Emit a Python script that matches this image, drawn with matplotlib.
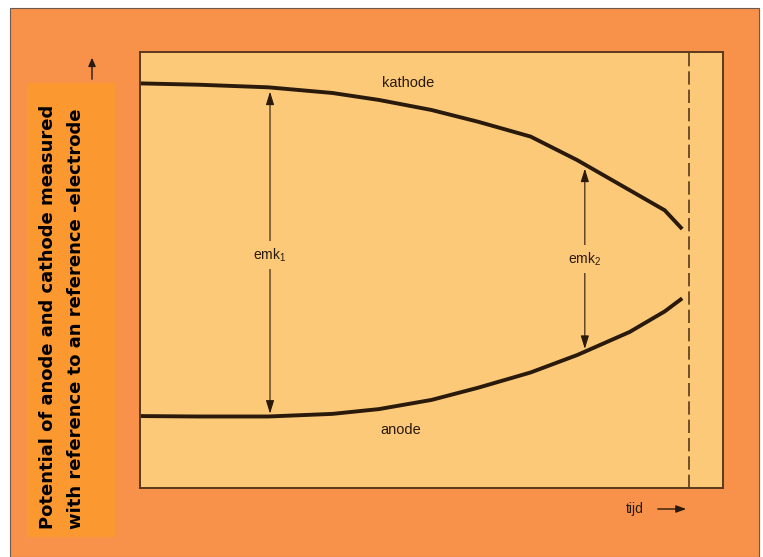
import numpy as np
import matplotlib.pyplot as plt
from matplotlib.patches import Rectangle, FancyArrowPatch

plt.rcParams['font.family'] = ['Liberation Sans', 'DejaVu Sans']
plt.rcParams['mathtext.fontset'] = 'custom'
plt.rcParams['mathtext.rm'] = 'Liberation Sans'
plt.rcParams['mathtext.it'] = 'Liberation Sans'

# data (time in arbitrary units, potential in arbitrary units)
tijd = [0, 1.0, 2.2, 3.3, 4.1, 5.0, 5.8, 6.7, 7.5, 8.4, 9.0, 9.3]
kathode = [9.28, 9.25, 9.19, 9.06, 8.90, 8.67, 8.40, 8.06, 7.52, 6.83, 6.37, 5.94]
anode = [1.65, 1.64, 1.64, 1.70, 1.81, 2.02, 2.30, 2.65, 3.05, 3.58, 4.05, 4.35]
t_end = 9.42
emk_t = [2.23, 7.63]
emk_labels = ['emk$_1$', 'emk$_2$']
emk_label_v = [5.34, 5.25]

W, H = 763, 557
outer_c = '#F8914A'
box_c = '#FC9830'
panel_c = '#FCC979'
ink = '#2a1a0c'
edge = '#5a3a1c'


def fx(x):
    return x / W


def fy(y):
    return 1 - y / H


fig = plt.figure(figsize=(W / 100, H / 100), dpi=100)
fig.patch.set_facecolor('white')

# outer orange frame and label box, kept behind the axes
fig.add_artist(Rectangle((fx(10), fy(557)), fx(749), 549 / H, transform=fig.transFigure,
                         facecolor=outer_c, edgecolor='#6a5a50', lw=0.8, zorder=-10))
fig.add_artist(Rectangle((fx(27), fy(537)), fx(88), 454 / H, transform=fig.transFigure,
                         facecolor=box_c, edgecolor='none', zorder=-9))

fig.text(fx(48), fy(529), 'Potential of anode and cathode measured', rotation=90,
         rotation_mode='anchor', ha='left', va='center', fontsize=13, fontweight='bold',
         family='DejaVu Sans', color='black')
fig.text(fx(76), fy(529), 'with reference to an reference -electrode', rotation=90,
         rotation_mode='anchor', ha='left', va='center', fontsize=13, fontweight='bold',
         family='DejaVu Sans', color='black')

# axis arrows outside the panel
fig.add_artist(FancyArrowPatch((fx(92), fy(82)), (fx(92), fy(55)), transform=fig.transFigure,
                               arrowstyle='-|>,head_length=5,head_width=2.2', lw=1.0, color=ink))
fig.add_artist(FancyArrowPatch((fx(655), fy(509)), (fx(689), fy(509)), transform=fig.transFigure,
                               arrowstyle='-|>,head_length=6,head_width=2.2', lw=1.0, color=ink))
fig.text(fx(635), fy(509), 'tijd', ha='center', va='center', fontsize=10, color=ink)

ax = fig.add_axes([fx(140), fy(488), (723 - 140) / W, (488 - 52) / H])
ax.set_facecolor(panel_c)
ax.set_xlim(0, 10)
ax.set_ylim(0, 10)
ax.set_xticks([])
ax.set_yticks([])
for s in ax.spines.values():
    s.set_color(edge)
    s.set_linewidth(1.4)

ax.plot(tijd, kathode, color=ink, lw=2.8, solid_capstyle='butt', solid_joinstyle='round')
ax.plot(tijd, anode, color=ink, lw=2.8, solid_capstyle='butt', solid_joinstyle='round')
ax.axvline(t_end, color=edge, lw=1.2, dashes=(8, 3))

for t, lab, lv in zip(emk_t, emk_labels, emk_label_v):
    top = np.interp(t, tijd, kathode)
    bot = np.interp(t, tijd, anode)
    ax.annotate('', xy=(t, top), xytext=(t, bot),
                arrowprops=dict(arrowstyle='<|-|>,head_length=0.8,head_width=0.25',
                                lw=0.8, color=ink, shrinkA=2, shrinkB=3))
    ax.text(t, lv, lab, ha='center', va='center', fontsize=10, color=ink,
            bbox=dict(facecolor=panel_c, edgecolor='none', pad=4))

ax.text(4.6, 9.29, 'kathode', ha='center', va='center', fontsize=10.5, color=ink)
ax.text(4.48, 1.33, 'anode', ha='center', va='center', fontsize=10.5, color=ink)

fig.savefig('out.png', dpi=100)
